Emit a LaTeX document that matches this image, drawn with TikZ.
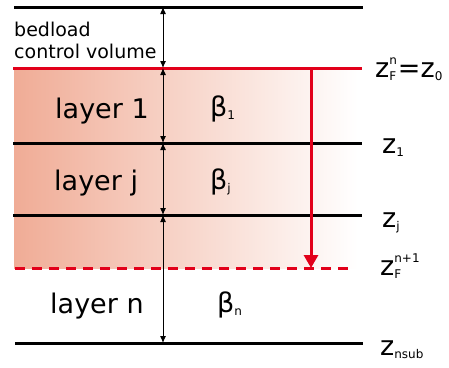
\documentclass[tikz,border=0pt]{standalone}
\usepackage{fontspec}
\setmainfont{DejaVu Sans}
\usetikzlibrary{arrows.meta}

\definecolor{lvred}{RGB}{226,0,26}
\definecolor{lvsalmon}{RGB}{240,172,150}

% small raised / lowered script text
\newcommand{\lo}[1]{\raisebox{-3pt}{\fontsize{12}{12}\selectfont #1}}
\newcommand{\hi}[1]{\raisebox{13pt}{\fontsize{12}{12}\selectfont #1}}
\newcommand{\zz}[2]{z\rlap{\lo{#1}}\hi{#2}}

\begin{document}
\begin{tikzpicture}[
  x=1pt,y=-1pt,
  big/.style={font=\fontsize{27}{27}\selectfont,inner sep=0pt,anchor=base west},
  small/.style={font=\fontsize{19}{22}\selectfont,inner sep=0pt,anchor=base west},
  level/.style={line width=3pt},
  front/.style={level,draw=lvred},
  dim/.style={{Latex[length=7pt,width=6pt]}-{Latex[length=7pt,width=6pt]},line width=1pt},
  move/.style={-{Triangle[length=13pt,width=14pt]},line width=3pt,draw=lvred},
]
\useasboundingbox (0,0) rectangle (449,367);

% shaded active layers
\shade[left color=lvsalmon,right color=white] (14,68) rectangle (358,268);

% levels
\coordinate (t0) at (14,7);   \coordinate (t1) at (363,7);
\coordinate (f0) at (13,68);  \coordinate (f1) at (362,68);
\coordinate (a0) at (13,143); \coordinate (a1) at (362,143);
\coordinate (b0) at (13,215); \coordinate (b1) at (362,215);
\coordinate (n0) at (15,268); \coordinate (n1) at (348,268);
\coordinate (s0) at (15,343); \coordinate (s1) at (363,343);

\draw[level] (t0) -- (t1);
\draw[front] (f0) -- (f1);
\draw[level] (a0) -- (a1);
\draw[level] (b0) -- (b1);
\draw[front,dashed,dash pattern=on 10pt off 7pt] (n0) -- (n1);
\draw[level] (s0) -- (s1);

% thickness arrows
\coordinate (v0) at (163,7);
\coordinate (v1) at (163,68);
\coordinate (v2) at (163,143);
\coordinate (v3) at (163,215);
\coordinate (v4) at (163,343);
\draw[dim] (v0) -- (v1);
\draw[dim] (v1) -- (v2);
\draw[dim] (v2) -- (v3);
\draw[dim] (v3) -- (v4);

% front displacement
\coordinate (m0) at (311,68);
\coordinate (m1) at (311,268);
\draw[move] (m0) -- (m1);

% labels
\node[small,align=left] (cv) at (14,58) {bedload\\control volume};
\node[big] (l1) at (55,118) {layer 1};
\node[big] (lj) at (54,190) {layer j};
\node[big] (ln) at (50,313) {layer n};
\node[big] (b1) at (210,116) {β\lo{1}};
\node[big] (bj) at (210,189) {β\lo{j}};
\node[big] (bn) at (217,312) {β\lo{n}};

\node[big] (zf) at (375,77) {\zz{F}{n}\kern1pt=z\lo{0}};
\node[big] (z1) at (382,153) {z\lo{1}};
\node[big] (zj) at (382,227) {z\lo{j}};
\node[big] (zn) at (380,275) {\zz{F}{n+1}};
\node[big] (zs) at (380,355) {z\lo{nsub}};

\end{tikzpicture}
\end{document}
